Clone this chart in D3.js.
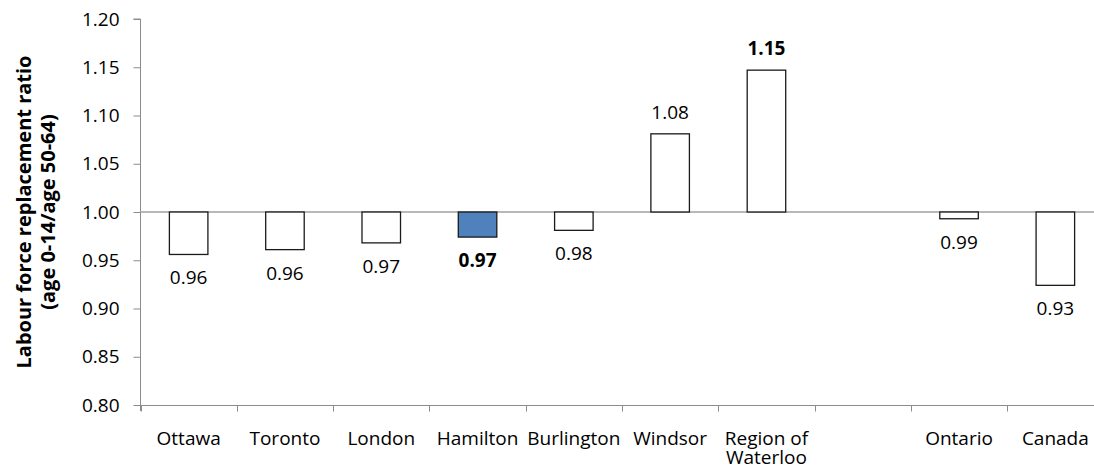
<!DOCTYPE html>
<html>
<head>
<meta charset="utf-8">
<script src="https://cdn.jsdelivr.net/npm/d3@7"></script>
<style>
  html, body { margin: 0; padding: 0; background: #fff; }
  svg { display: block; font-family: "Open Sans", "Noto Sans", sans-serif; }
</style>
</head>
<body>
<svg id="chart" width="1094" height="470"></svg>
<script>
// ---- data ----
const categories = ["Ottawa", "Toronto", "London", "Hamilton", "Burlington", "Windsor", "Region of Waterloo", "", "Ontario", "Canada"];
const values = [0.956, 0.961, 0.968, 0.974, 0.981, 1.081, 1.147, null, 0.993, 0.924];
const labels = ["0.96", "0.96", "0.97", "0.97", "0.98", "1.08", "1.15", "", "0.99", "0.93"];
const boldLabels = ["Hamilton", "Region of Waterloo"];
const highlight = ["Hamilton"];
const yTicks = [0.80, 0.85, 0.90, 0.95, 1.00, 1.05, 1.10, 1.15, 1.20];
const baseline = 1.00;
const yTitle = ["Labour force replacement ratio", "(age 0-14/age 50-64)"];

// ---- layout ----
const svg = d3.select("#chart");
const x = d3.scaleBand().domain(categories.map((c, i) => i)).range([140.5, 1103.5]).paddingInner(0).paddingOuter(0);
const y = d3.scaleLinear().domain([0.80, 1.20]).range([405, 19]);
const axisColor = "#8c8c8c";
const fs = 19;

// y axis
const yAxis = svg.append("g").attr("transform", "translate(140.5,0)")
  .call(d3.axisLeft(y).tickValues(yTicks).tickFormat(d3.format(".2f")).tickSize(7).tickPadding(14));
yAxis.select(".domain").attr("stroke", axisColor).attr("d", `M-7,${y(1.2)}H0V${y(0.8)+6}`);
yAxis.selectAll(".tick line").attr("stroke", axisColor);
yAxis.selectAll(".tick text").attr("font-size", fs).attr("fill", "#000").attr("font-family", "Open Sans");

// bottom axis line with category boundary ticks
const yb = Math.round(y(0.8)) + 0.5;
svg.append("line").attr("x1", 134).attr("x2", 1094).attr("y1", yb).attr("y2", yb).attr("stroke", axisColor);
const bounds = categories.map((c, i) => x(i)).concat([x(categories.length - 1) + x.bandwidth()]);
svg.selectAll(".btick").data(bounds).enter().append("line")
  .attr("x1", d => Math.round(d) + 0.5).attr("x2", d => Math.round(d) + 0.5)
  .attr("y1", yb).attr("y2", yb + 6).attr("stroke", axisColor);

// baseline at 1.00
svg.append("line").attr("x1", 140.5).attr("x2", 1094).attr("y1", y(baseline)).attr("y2", y(baseline))
  .attr("stroke", "#a0a0a0").attr("stroke-width", 1.5);

// bars
const bw = x.bandwidth() * 0.4;
const data = categories.map((c, i) => ({ c, i, v: values[i], l: labels[i] })).filter(d => d.v !== null);
svg.selectAll(".bar").data(data).enter().append("rect")
  .attr("x", d => x(d.i) + (x.bandwidth() - bw) / 2)
  .attr("width", bw)
  .attr("y", d => y(Math.max(d.v, baseline)))
  .attr("height", d => Math.abs(y(d.v) - y(baseline)))
  .attr("fill", d => highlight.includes(d.c) ? "#4f81bd" : "#ffffff")
  .attr("stroke", "#1a1a1a").attr("stroke-width", 1.3);

// data labels
svg.selectAll(".dlabel").data(data).enter().append("text")
  .attr("x", d => x(d.i) + x.bandwidth() / 2)
  .attr("y", d => d.v >= baseline ? y(d.v) - 15 : y(d.v) + 30)
  .attr("text-anchor", "middle")
  .attr("font-size", fs)
  .attr("font-weight", d => boldLabels.includes(d.c) ? "bold" : "normal")
  .attr("fill", "#000")
  .text(d => d.l);

// category labels (wrapped into separate lines)
const catG = svg.append("g");
categories.forEach((c, i) => {
  if (!c) return;
  const lines = c === "Region of Waterloo" ? ["Region of", "Waterloo"] : [c];
  lines.forEach((ln, k) => {
    catG.append("text").attr("x", x(i) + x.bandwidth() / 2).attr("y", 445 + k * 19)
      .attr("text-anchor", "middle").attr("font-size", fs).attr("fill", "#000").text(ln);
  });
});

// y title
const title = svg.append("text").attr("transform", "translate(31,212) rotate(-90)")
  .attr("text-anchor", "middle").attr("font-size", 20).attr("font-weight", "bold").attr("fill", "#000");
yTitle.forEach((ln, k) => {
  title.append("tspan").attr("x", 0).attr("dy", k === 0 ? 0 : 24).text(ln);
});
</script>
</body>
</html>
